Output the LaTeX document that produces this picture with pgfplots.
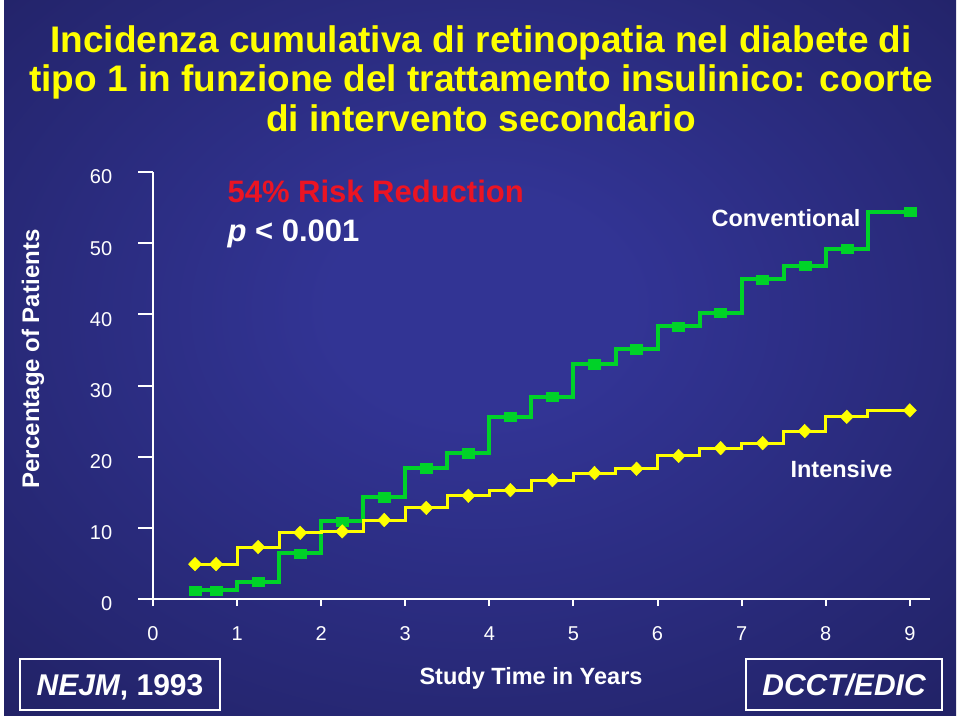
\documentclass[border=0pt]{standalone}
\usepackage{pgfplots}
\pgfplotsset{compat=1.18}
\usepackage{pgfplotstable}
\usepackage{fontspec}
\setmainfont{Liberation Sans}
\definecolor{bgin}{RGB}{50,52,148}
\definecolor{bgout}{RGB}{27,27,84}
\definecolor{cgreen}{RGB}{0,210,40}
\definecolor{cyellow}{RGB}{255,255,0}
\definecolor{cred}{RGB}{235,20,35}
\pgfdeclareradialshading{bgshade}{\pgfpoint{0bp}{4bp}}{color(0bp)=(bgin); color(8bp)=(bgin); color(48bp)=(bgout); color(80bp)=(bgout)}

% Conventional (green): marker positions
\pgfplotstableread{
x y
0.5 1.2
0.75 1.2
1.25 2.4
1.75 6.4
2.25 10.9
2.75 14.3
3.25 18.4
3.75 20.5
4.25 25.6
4.75 28.4
5.25 33.0
5.75 35.1
6.25 38.3
6.75 40.2
7.25 44.9
7.75 46.8
8.25 49.2
9.0 54.4
}\greenmarks
% Conventional (green): step line (value held from x onwards)
\pgfplotstableread{
x y
0.45 1.2
1.0 2.4
1.5 6.4
2.0 10.9
2.5 14.3
3.0 18.4
3.5 20.5
4.0 25.6
4.5 28.4
5.0 33.0
5.5 35.1
6.0 38.3
6.5 40.2
7.0 44.9
7.5 46.8
8.0 49.2
8.5 54.4
9.0 54.4
}\greenline
% Intensive (yellow): marker positions
\pgfplotstableread{
x y
0.5 4.9
0.75 4.9
1.25 7.3
1.75 9.3
2.25 9.5
2.75 11.1
3.25 12.8
3.75 14.5
4.25 15.3
4.75 16.7
5.25 17.7
5.75 18.3
6.25 20.1
6.75 21.2
7.25 21.9
7.75 23.6
8.25 25.6
9.0 26.5
}\yellowmarks
% Intensive (yellow): step line
\pgfplotstableread{
x y
0.45 4.9
1.0 7.3
1.5 9.3
2.0 9.5
2.5 11.1
3.0 12.8
3.5 14.5
4.0 15.3
4.5 16.7
5.0 17.7
5.5 18.3
6.0 20.1
6.5 21.2
7.0 21.9
7.5 23.6
8.0 25.6
8.5 26.5
9.0 26.5
}\yellowline

\begin{document}
\begin{tikzpicture}
\begin{scope}[x=1pt,y=1pt]
\fill[white] (0,0) rectangle (960,717);
\shade[shading=bgshade] (4,2) rectangle (956,716);
% title
\begin{scope}[every node/.style={anchor=base, text=cyellow, font=\fontsize{37}{41}\selectfont\bfseries}]
\node at (481,664) {Incidenza cumulativa di retinopatia nel diabete di};
\node at (481,625) {tipo 1 in funzione del trattamento insulinico: coorte};
\node at (481,585) {di intervento secondario};
\end{scope}
\end{scope}

\begin{axis}[
  at={(153pt,118pt)}, anchor=south west,
  scale only axis, width=777pt, height=427pt,
  xmin=0, xmax=9.24, ymin=0, ymax=60,
  axis lines=left,
  axis line style={white, line width=2pt, -},
  xtick={0,1,...,9}, ytick={0,10,...,60},
  tick align=outside,
  xtick style={white, line width=2pt, /pgfplots/major tick length=7pt},
  ytick style={white, line width=2pt, /pgfplots/major tick length=15pt},
  ticklabel style={text=white, font=\fontsize{20}{24}\selectfont},
  /pgf/number format/assume math mode=true,
  yticklabel style={anchor=east, xshift=-33pt, yshift=-5pt},
  xticklabel style={anchor=north, yshift=-20pt},
  clip=false,
]
\addplot[cgreen, line width=4pt, const plot, mark=none] table[x=x,y=y] {\greenline};
\addplot[cgreen, only marks, mark=square*, mark size=6pt, mark options={yscale=0.78}] table[x=x,y=y] {\greenmarks};
\addplot[cyellow, line width=3pt, const plot, mark=none] table[x=x,y=y] {\yellowline};
\addplot[cyellow, only marks, mark=diamond*, mark size=6.8pt, mark options={xscale=1.3}] table[x=x,y=y] {\yellowmarks};
\end{axis}

\begin{scope}[x=1pt,y=1pt]
\node[anchor=base west, text=cred, font=\fontsize{31}{35}\selectfont\bfseries] at (224,514) {54\% Risk Reduction};
\node[anchor=base west, text=white, font=\fontsize{31}{35}\selectfont\bfseries] at (224,475) {\textit{p} < 0.001};
\node[anchor=base west, text=white, font=\fontsize{23.5}{28}\selectfont\bfseries] at (708,490) {Conventional};
\node[anchor=base west, text=white, font=\fontsize{23.5}{28}\selectfont\bfseries] at (787,239) {Intensive};
\node[rotate=90, text=white, font=\fontsize{24}{28}\selectfont\bfseries] at (33,358) {Percentage of Patients};
\node[anchor=base, text=white, font=\fontsize{23.5}{28}\selectfont\bfseries] at (531,33) {Study Time in Years};
\draw[white, line width=2pt] (20,7) rectangle (220,58);
\node[anchor=base, text=white, font=\fontsize{30}{34}\selectfont\bfseries] at (120,22) {\textit{NEJM}, 1993};
\draw[white, line width=2pt] (746,7) rectangle (942,58);
\node[anchor=base, text=white, font=\fontsize{30}{34}\selectfont\bfseries\itshape] at (844,22) {DCCT/EDIC};
\pgfresetboundingbox
\path[use as bounding box] (0,0) rectangle (960,717);
\end{scope}
\end{tikzpicture}
\end{document}
